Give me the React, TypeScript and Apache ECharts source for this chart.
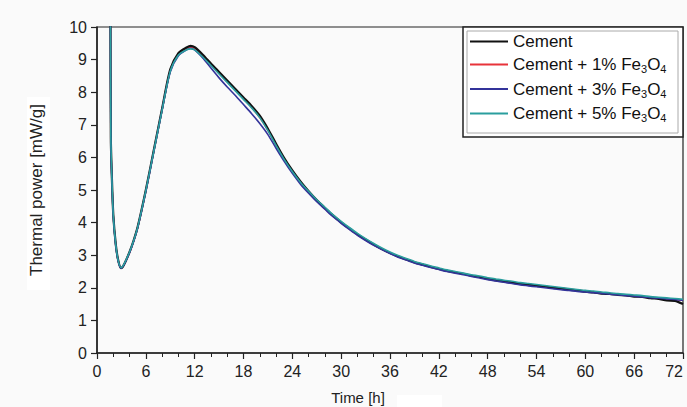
import React, { useEffect, useRef } from "react";
import * as echarts from "echarts";

const hours = [1.65, 1.7, 1.8, 2.0, 2.3, 2.6, 2.95, 3.3, 4, 4.5, 5, 6, 7, 8, 9, 10, 11, 11.5, 12,
  13, 14, 15, 16, 17, 18, 19, 20, 21, 22,
  23, 24, 25, 26, 27, 28, 29, 30, 31, 32,
  33, 34, 35, 36, 37, 38, 39, 40, 41, 42,
  43, 44, 45, 46, 47, 48, 49, 50, 51, 52,
  53, 54, 55, 56, 57, 58, 59, 60, 61, 62,
  63, 64, 65, 66, 67, 68, 69, 70, 71, 72];

const cement = [10.6, 6.6, 5.6, 4.25, 3.35, 2.85, 2.6, 2.7, 3.1, 3.45, 3.87, 5.0, 6.25, 7.5, 8.7, 9.2, 9.37, 9.42, 9.38,
  9.15, 8.88, 8.62, 8.36, 8.1, 7.84, 7.58, 7.28, 6.88, 6.42,
  5.98, 5.6, 5.26, 4.96, 4.69, 4.45, 4.22, 4.01, 3.82, 3.64,
  3.48, 3.33, 3.19, 3.07, 2.96, 2.87, 2.78, 2.71, 2.64, 2.58,
  2.52, 2.47, 2.43, 2.37, 2.33, 2.27, 2.23, 2.19, 2.16, 2.12,
  2.10, 2.06, 2.04, 2.00, 1.98, 1.94, 1.92, 1.88, 1.86, 1.82,
  1.81, 1.78, 1.77, 1.73, 1.72, 1.68, 1.66, 1.61, 1.60, 1.50];

const fe1 = [10.6, 6.5, 5.55, 4.2, 3.32, 2.83, 2.62, 2.72, 3.08, 3.43, 3.85, 4.97, 6.22, 7.47, 8.66, 9.17, 9.34, 9.38, 9.35,
  9.12, 8.85, 8.58, 8.32, 8.06, 7.8, 7.53, 7.22, 6.83, 6.38,
  5.95, 5.57, 5.23, 4.93, 4.67, 4.43, 4.2, 4.0, 3.81, 3.63,
  3.47, 3.32, 3.19, 3.07, 2.96, 2.87, 2.79, 2.72, 2.65, 2.59,
  2.53, 2.48, 2.43, 2.38, 2.33, 2.29, 2.25, 2.21, 2.17, 2.14,
  2.11, 2.08, 2.05, 2.02, 1.99, 1.96, 1.93, 1.9, 1.87, 1.85,
  1.82, 1.8, 1.77, 1.75, 1.72, 1.7, 1.68, 1.66, 1.64, 1.62];

const fe3 = [10.6, 6.55, 5.5, 4.18, 3.3, 2.82, 2.6, 2.7, 3.08, 3.42, 3.84, 4.95, 6.2, 7.45, 8.62, 9.12, 9.3, 9.35, 9.3,
  9.05, 8.74, 8.44, 8.16, 7.9, 7.62, 7.34, 7.04, 6.7, 6.28,
  5.88, 5.51, 5.18, 4.9, 4.64, 4.41, 4.18, 3.98, 3.79, 3.61,
  3.45, 3.3, 3.17, 3.05, 2.94, 2.85, 2.76, 2.69, 2.62, 2.56,
  2.5, 2.45, 2.4, 2.35, 2.3, 2.25, 2.21, 2.17, 2.13, 2.09,
  2.06, 2.03, 2.0, 1.97, 1.94, 1.92, 1.89, 1.87, 1.85, 1.83,
  1.8, 1.78, 1.76, 1.74, 1.72, 1.7, 1.68, 1.66, 1.64, 1.62];

const fe5 = [10.6, 6.6, 5.58, 4.22, 3.33, 2.84, 2.62, 2.72, 3.1, 3.44, 3.86, 4.98, 6.22, 7.46, 8.64, 9.14, 9.3, 9.33, 9.3,
  9.08, 8.82, 8.56, 8.3, 8.04, 7.78, 7.52, 7.22, 6.82, 6.37,
  5.94, 5.57, 5.24, 4.96, 4.7, 4.47, 4.24, 4.04, 3.85, 3.67,
  3.51, 3.36, 3.22, 3.1, 2.99, 2.9, 2.81, 2.74, 2.67, 2.61,
  2.55, 2.5, 2.45, 2.4, 2.36, 2.31, 2.27, 2.23, 2.2, 2.16,
  2.13, 2.1, 2.07, 2.04, 2.01, 1.98, 1.95, 1.92, 1.9, 1.87,
  1.85, 1.82, 1.8, 1.78, 1.76, 1.73, 1.71, 1.69, 1.67, 1.65];

const seriesNames = ["Cement", "Cement + 1% Fe3O4", "Cement + 3% Fe3O4", "Cement + 5% Fe3O4"];
const seriesColors = ["#111111", "#e8333a", "#33339a", "#2a9e9e"];

const FONT = "'Liberation Sans', Arial, sans-serif";

function pairs(vals: number[]) {
  return hours.map((h, i) => [h, vals[i]]);
}

export default function App() {
  const ref = useRef<HTMLDivElement>(null);
  useEffect(() => {
    if (!ref.current) return;
    const chart = echarts.init(ref.current, null, { renderer: "svg" });
    const mk = (idx: number, vals: number[], width: number) => ({
      name: seriesNames[idx],
      type: "line",
      data: pairs(vals),
      showSymbol: false,
      symbol: "none",
      smooth: 0.25,
      clip: true,
      lineStyle: { color: seriesColors[idx], width },
      itemStyle: { color: seriesColors[idx] },
    });
    chart.setOption({
      animation: false,
      backgroundColor: "#fafafa",
      textStyle: { fontFamily: FONT },
      grid: {
        left: 97, right: 4, top: 27, bottom: 54,
        outerBoundsMode: "none", containLabel: false,
        show: true, borderColor: "#222", borderWidth: 1.2, backgroundColor: "transparent",
      },
      xAxis: {
        type: "value", min: 0, max: 72, interval: 6,
        name: "Time [h]", nameLocation: "middle", nameGap: 37,
        nameTextStyle: { fontSize: 15, color: "#222", fontFamily: FONT, padding: [0, 64, 0, 0] },
        axisLine: { show: true, lineStyle: { color: "#222", width: 1.5 } },
        axisTick: { show: true, length: 6, lineStyle: { color: "#222", width: 1.2 } },
        minorTick: { show: true, splitNumber: 3, length: 4, lineStyle: { color: "#222", width: 1 } },
        axisLabel: { fontSize: 16, color: "#222", margin: 10, fontFamily: FONT, alignMaxLabel: "right" },
        splitLine: { show: false },
      },
      yAxis: {
        type: "value", min: 0, max: 10, interval: 1,
        name: "Thermal power [mW/g]", nameLocation: "middle", nameGap: 52, nameRotate: 90,
        nameTextStyle: { fontSize: 17, color: "#222", fontFamily: FONT },
        axisLine: { show: true, lineStyle: { color: "#222", width: 1.5 } },
        axisTick: { show: true, length: 6, lineStyle: { color: "#222", width: 1.2 } },
        axisLabel: { fontSize: 16, color: "#222", margin: 10, fontFamily: FONT },
        splitLine: { show: false },
      },
      legend: {
        data: seriesNames,
        orient: "vertical",
        left: 470, top: 33,
        padding: 0,
        itemWidth: 38, itemHeight: 2, itemGap: 6, icon: "rect",
        formatter: (name: string) => {
          const m = name.match(/^(.*Fe)3O4$/);
          if (!m) return `{n|${name}}`;
          return `{n|${m[1]}}{s|3}{n|O}{s|4}`;
        },
        textStyle: {
          fontFamily: FONT, color: "#111",
          rich: {
            n: { fontSize: 17, lineHeight: 20, color: "#111", fontFamily: FONT },
            s: { fontSize: 11, lineHeight: 10, verticalAlign: "bottom", color: "#111", fontFamily: FONT },
          },
        },
      },
      graphic: [
        { type: "rect", z: 0, shape: { x: 27, y: 97, width: 23, height: 193 }, style: { fill: "#ffffff" } },
        { type: "rect", z: 0, shape: { x: 397, y: 395, width: 45, height: 12 }, style: { fill: "#ffffff" } },
        { type: "rect", z: 3, shape: { x: 463, y: 27, width: 220, height: 110 }, style: { fill: "#ffffff", stroke: "#222", lineWidth: 1.5 } },
        { type: "rect", z: 3, shape: { x: 467, y: 31, width: 211, height: 102 }, style: { fill: "none", stroke: "#aaa", lineWidth: 1 } },
      ],
      series: [
        mk(1, fe1, 1.5),
        mk(0, cement, 2.2),
        mk(2, fe3, 1.6),
        mk(3, fe5, 1.6),
      ],
    });
    return () => chart.dispose();
  }, []);
  return <div ref={ref} style={{ position: "fixed", left: 0, top: 0, width: 687, height: 407 }} />;
}
